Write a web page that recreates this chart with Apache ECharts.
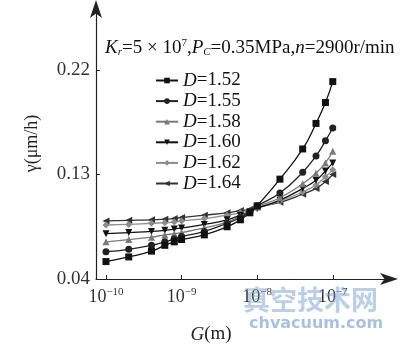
<!DOCTYPE html>
<html>
<head>
<meta charset="utf-8">
<script src="https://cdn.jsdelivr.net/npm/echarts@6/dist/echarts.min.js"></script>
<style>
  html, body { margin: 0; padding: 0; background: #fff; }
  #chart { width: 407px; height: 351px; }
</style>
</head>
<body>
<div id="chart"></div>
<script>
// G (m) sample positions
const gValues = [1e-10, 2e-10, 4e-10, 6e-10, 8e-10, 1e-9, 2e-9, 4e-9, 6e-9, 8e-9,
  1e-8, 2e-8, 4e-8, 6e-8, 8e-8, 1e-7];
// gamma (um/h) per fractal dimension D
const d152 = [0.055, 0.059, 0.064, 0.069, 0.072, 0.074, 0.078, 0.085, 0.091, 0.097,
  0.103, 0.126, 0.152, 0.174, 0.192, 0.210];
const d155 = [0.0635, 0.0656, 0.069, 0.072, 0.0745, 0.0765, 0.081, 0.088, 0.093, 0.098,
  0.103, 0.114, 0.132, 0.146, 0.159, 0.170];
const d158 = [0.072, 0.074, 0.076, 0.078, 0.079, 0.080, 0.084, 0.089, 0.094, 0.098,
  0.102, 0.110, 0.122, 0.131, 0.140, 0.150];
const d160 = [0.079, 0.080, 0.081, 0.082, 0.083, 0.084, 0.087, 0.091, 0.095, 0.098,
  0.101, 0.108, 0.118, 0.125, 0.133, 0.140];
const d162 = [0.0865, 0.087, 0.088, 0.0885, 0.089, 0.090, 0.092, 0.095, 0.097, 0.099,
  0.101, 0.107, 0.115, 0.121, 0.128, 0.134];
const d164 = [0.090, 0.0905, 0.091, 0.0915, 0.092, 0.093, 0.095, 0.097, 0.099, 0.100,
  0.102, 0.106, 0.113, 0.118, 0.124, 0.130];
const seriesNames = ["1.52", "1.55", "1.58", "1.60", "1.62", "1.64"];
const xTicks = [-10, -9, -8, -7];   // log10 of G
const yTicks = [0.04, 0.13, 0.22];

const serif = "Liberation Serif";
const allData = [d152, d155, d158, d160, d162, d164];
const colors = ["#111", "#222", "#7a7a7a", "#111", "#8c8c8c", "#333"];
const symbols = [
  "rect",
  "circle",
  "triangle",
  "path://M0,0L10,0L5,10Z",
  "diamond",
  "path://M0,5L10,0L10,10Z",
];

const series = allData.map((vals, i) => ({
  name: seriesNames[i],
  type: "line",
  smooth: true,
  data: vals.map((v, k) => [Math.log10(gValues[k]), v]),
  symbol: symbols[i],
  symbolSize: 7,
  showAllSymbol: true,
  itemStyle: { color: colors[i] },
  lineStyle: { width: 1.3, color: colors[i] },
  z: 10 - i,
}));

const option = {
  animation: false,
  backgroundColor: "#fff",
  grid: { left: 96, right: 17, top: 8, bottom: 72 },
  title: {
    left: 100,
    top: 33,
    text: "{i|K}{sub|r}{n|=5 × 10}{sup|7}{n|,}{i|P}{sub|C}{n|=0.35MPa,}{i|n}{n|=2900r/min}",
    textStyle: {
      fontWeight: "normal",
      rich: {
        n: { fontFamily: serif, fontSize: 19, fontWeight: "normal", color: "#111" },
        i: { fontFamily: serif, fontSize: 19, fontWeight: "normal", fontStyle: "italic", color: "#111" },
        sub: { fontFamily: serif, fontSize: 11, fontWeight: "normal", fontStyle: "italic", color: "#111", padding: [9, 0, 0, 0] },
        sup: { fontFamily: serif, fontSize: 11, fontWeight: "normal", color: "#111", padding: [0, 0, 9, 0] },
      },
    },
  },
  legend: {
    orient: "vertical",
    left: 150,
    top: 66,
    itemGap: 1.6,
    itemWidth: 22,
    itemHeight: 7,
    data: seriesNames,
    formatter: (name) => "{i|D}{n|=" + name + "}",
    textStyle: {
      lineHeight: 18,
      rich: {
        n: { fontFamily: serif, fontSize: 19, color: "#111", lineHeight: 18 },
        i: { fontFamily: serif, fontSize: 19, fontStyle: "italic", color: "#111", lineHeight: 18 },
      },
    },
  },
  xAxis: {
    type: "value",
    min: -10.132,
    max: -6.243,
    name: "{i|G}{n|(m)}",
    nameLocation: "middle",
    nameGap: 46,
    nameTextStyle: {
      padding: [0, 64, 0, 0],
      rich: {
        n: { fontFamily: serif, fontSize: 19, color: "#222" },
        i: { fontFamily: serif, fontSize: 19, fontStyle: "italic", color: "#222" },
      },
    },
    axisLine: {
      lineStyle: { color: "#222", width: 1.2 },
      symbol: ["none", "arrow"],
      symbolSize: [9, 18],
      symbolOffset: [0, 8],
    },
    axisTick: { inside: true, length: 4, customValues: xTicks, lineStyle: { color: "#222" } },
    axisLabel: {
      customValues: xTicks,
      margin: 8,
      formatter: (v) => "{b|10}{s|\u2212" + Math.abs(Math.round(v)) + "}",
      rich: {
        b: { fontFamily: serif, fontSize: 18, color: "#333" },
        s: { fontFamily: serif, fontSize: 11, color: "#333", padding: [0, 0, 9, 0] },
      },
    },
    splitLine: { show: false },
  },
  yAxis: {
    type: "value",
    min: 0.04,
    max: 0.2734,
    name: "γ(μm/h)",
    nameLocation: "middle",
    nameGap: 55,
    nameTextStyle: { fontFamily: serif, fontSize: 18, color: "#222" },
    axisLine: {
      show: true,
      lineStyle: { color: "#222", width: 1.2 },
      symbol: ["none", "arrow"],
      symbolSize: [9, 18],
      symbolOffset: [0, 8],
    },
    axisTick: { show: true, inside: true, length: 4, customValues: yTicks, lineStyle: { color: "#222" } },
    axisLabel: {
      customValues: yTicks,
      margin: 6,
      formatter: (v) => v.toFixed(2),
      fontFamily: serif,
      fontSize: 19,
      color: "#333",
    },
    splitLine: { show: false },
  },
  graphic: [
    {
      type: "text",
      left: 243,
      top: 286,
      z: 100,
      style: {
        text: "真空技术网",
        fontFamily: "Noto Sans CJK SC",
        fontSize: 27,
        fontWeight: "bold",
        fill: "rgba(120,160,205,0.5)",
      },
    },
    {
      type: "text",
      left: 249,
      top: 316,
      z: 100,
      style: {
        text: "chvacuum.com",
        fontFamily: "DejaVu Sans",
        fontSize: 16,
        fontWeight: "bold",
        fill: "rgba(120,160,205,0.65)",
      },
    },
  ],
  series: series,
};

const myChart = echarts.init(document.getElementById("chart"));
myChart.setOption(option);
window.onresize = myChart.resize;
</script>
</body>
</html>
